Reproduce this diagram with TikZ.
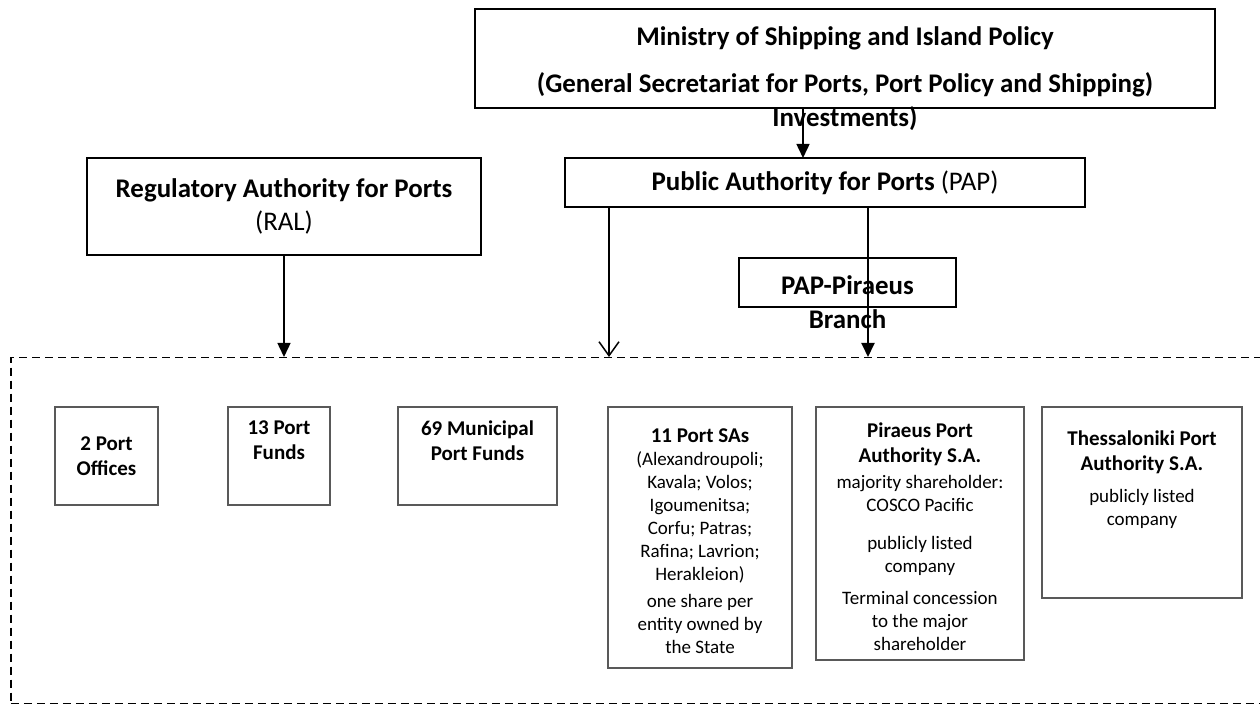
\documentclass[tikz,border=0pt]{standalone}
\usepackage{fontspec}
\setmainfont{Carlito}
\usetikzlibrary{arrows.meta,positioning}
\newcommand{\hd}{\fontsize{10.5}{12.5}\selectfont\bfseries}
\newcommand{\tx}{\fontsize{9.5}{11.5}\selectfont}
\newcommand{\topbox}[4]{\parbox[c][#2][t]{#1}{\centering\vspace*{#3}#4}}

\begin{document}
\begin{tikzpicture}[x=0.5pt,y=-0.5pt,>={Triangle[length=7pt,width=6.5pt]}, every node/.style={font=\fontsize{13.45}{16.8}\selectfont}]
\tikzstyle{box}=[draw,line width=0.75pt,fill=white,inner sep=0pt,outer sep=0pt,anchor=north west]
\tikzstyle{unit}=[draw=black!65,line width=0.6pt,fill=white,inner sep=0pt,outer sep=0pt,anchor=north west]
\tikzstyle{link}=[line width=0.75pt]
\useasboundingbox (0,0) rectangle (1260,704);
\node[draw,dashed,dash pattern=on 4pt off 2.5pt,line width=0.75pt,anchor=north west,inner sep=0pt,minimum width=632.5pt,minimum height=173pt] (group) at (10,357) {};
\node[box] (ministry) at (475,9) {\topbox{370pt}{49.5pt}{8.7pt}{\bfseries Ministry of Shipping and Island Policy\\[7pt](General Secretariat for Ports, Port Policy and Shipping)\\Investments)}};
\node[box,minimum width=260pt,minimum height=24.5pt] (pap) at (565,158) {\textbf{Public Authority for Ports} (PAP)};
\node[box,minimum width=197pt,minimum height=48.5pt,align=center] (ral) at (87,158) {\textbf{Regulatory Authority for Ports}\\(RAL)};
\node[box] (branch) at (739,258) {\topbox{108.5pt}{24.5pt}{8.8pt}{\bfseries PAP-Piraeus\\Branch}};
\node[unit] (offices) at (55,407) {\parbox[c][49pt][c]{51.5pt}{\centering\hd 2 Port\\Offices}};
\node[unit] (funds) at (228,407) {\topbox{51pt}{49pt}{7pt}{\hd 13 Port\\Funds}};
\node[unit] (municipal) at (398,407) {\topbox{79.5pt}{49pt}{7pt}{\hd 69 Municipal\\Port Funds}};
\node[unit] (sas) at (608,407) {\topbox{92pt}{130.5pt}{11pt}{{\hd 11 Port SAs\par}\tx (Alexandroupoli;\\Kavala; Volos;\\Igoumenitsa;\\Corfu; Patras;\\Rafina; Lavrion;\\Herakleion)\par\vspace{2pt}one share per\\entity owned by\\the State}};
\node[unit] (piraeus) at (816,407) {\topbox{104pt}{126.5pt}{8pt}{{\hd Piraeus Port\\Authority S.A.\par}\vspace{1.5pt}\tx majority shareholder:\\COSCO Pacific\par\vspace{7.5pt}publicly listed\\company\par\vspace{4.5pt}Terminal concession\\to the major\\shareholder}};
\node[unit] (thess) at (1042,407) {\topbox{100pt}{95.5pt}{12pt}{{\hd Thessaloniki Port\\Authority S.A.\par}\vspace{4.5pt}\tx publicly listed\\company}};
\draw[link,->] ([xshift=164pt]ministry.south west) -- ([xshift=164pt]ministry.south west |- pap.north);
\draw[link,->] (ral.south) -- (ral.south |- group.north);
\draw[link,-{Straight Barb[length=7pt,width=10pt]}] ([xshift=22pt]pap.south west) -- ([xshift=22pt]pap.south west |- group.north);
\draw[line width=1pt,->] ([xshift=151.5pt]pap.south west) -- ([xshift=151.5pt]pap.south west |- group.north);
\end{tikzpicture}
\end{document}
